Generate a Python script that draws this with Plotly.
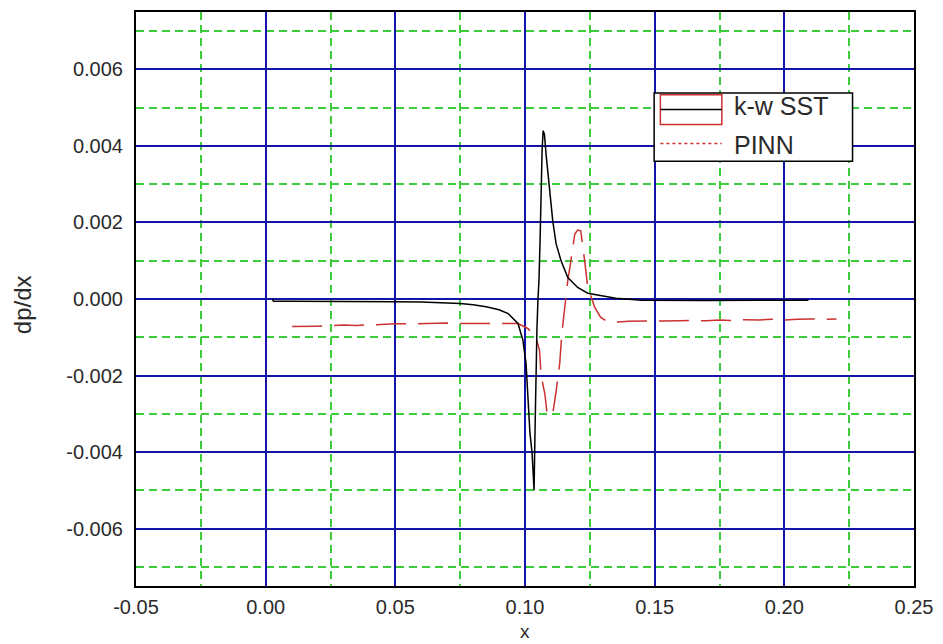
import plotly.graph_objects as go

# ---- data ----
x_sst = [0.0026, 0.003, 0.01, 0.02, 0.03, 0.04, 0.05, 0.06, 0.07, 0.075, 0.08, 0.085,
         0.09, 0.0935, 0.0973, 0.0992, 0.1004, 0.1011, 0.1019, 0.1027, 0.1035, 0.1038,
         0.1042, 0.1046, 0.1050, 0.1054, 0.1058, 0.1062, 0.1066, 0.1070, 0.1075, 0.1081,
         0.1091, 0.1098, 0.1107, 0.1120, 0.1139, 0.1165, 0.1203, 0.1242, 0.128, 0.135,
         0.145, 0.155, 0.17, 0.19, 0.2093]
y_sst_e3 = [0.0, -0.06, -0.06, -0.06, -0.06, -0.07, -0.07, -0.08, -0.10, -0.12, -0.15, -0.2,
            -0.28, -0.38, -0.64, -1.08, -1.68, -2.4, -3.5, -4.0, -5.0, -3.7,
            -2.0, -0.8, 0.0, 0.5, 1.5, 3.0, 3.9, 4.4, 4.3, 3.8,
            3.1, 2.5, 2.04, 1.44, 1.0, 0.56, 0.3, 0.15, 0.1, 0.02,
            -0.03, -0.04, -0.04, -0.03, -0.03]

x_pinn = [0.0102, 0.015, 0.02, 0.025, 0.03, 0.035, 0.04, 0.045, 0.05, 0.055, 0.06, 0.065,
          0.07, 0.075, 0.08, 0.085, 0.09, 0.0935, 0.0973, 0.1011, 0.1042, 0.1056, 0.1062,
          0.1077, 0.1085, 0.1096, 0.1107, 0.1119, 0.1134, 0.1142, 0.1157, 0.1165, 0.1177,
          0.1192, 0.1203, 0.1215, 0.1230, 0.1242, 0.1269, 0.1292, 0.1319, 0.1357, 0.14,
          0.145, 0.15, 0.155, 0.16, 0.165, 0.17, 0.175, 0.18, 0.185, 0.19, 0.195, 0.2,
          0.205, 0.21, 0.215, 0.2201]
y_pinn_e3 = [-0.72, -0.72, -0.71, -0.70, -0.68, -0.69, -0.67, -0.66, -0.65, -0.65, -0.64, -0.64,
             -0.63, -0.64, -0.64, -0.64, -0.63, -0.64, -0.64, -0.77, -1.0, -1.34, -2.0,
             -2.5, -3.0, -3.05, -3.0, -2.46, -1.68, -0.9, -0.04, 0.48, 1.0,
             1.7, 1.8, 1.78, 1.0, 0.3, -0.22, -0.48, -0.6, -0.6, -0.58,
             -0.58, -0.57, -0.58, -0.57, -0.56, -0.57, -0.55, -0.56, -0.54, -0.55, -0.53, -0.55,
             -0.53, -0.52, -0.53, -0.52]

x_tickvals = [-0.05, 0.0, 0.05, 0.10, 0.15, 0.20, 0.25]
x_ticktext = ["-0.05", "0.00", "0.05", "0.10", "0.15", "0.20", "0.25"]
y_tickvals = [-0.006, -0.004, -0.002, 0.0, 0.002, 0.004, 0.006]
y_ticktext = ["-0.006", "-0.004", "-0.002", "0.000", "0.002", "0.004", "0.006"]

series_names = ["k-w SST", "PINN"]
x_label = "x"
y_label = "dp/dx"

y_sst = [v * 1e-3 for v in y_sst_e3]
y_pinn = [v * 1e-3 for v in y_pinn_e3]

FONT = "Liberation Sans, Arial, sans-serif"
BLUE = "#1414a8"
GREEN = "#3ccc3c"
RED = "#cc3030"
TXT = "#2a2a2a"

fig = go.Figure()
fig.add_trace(go.Scatter(x=x_pinn, y=y_pinn, mode="lines", name=series_names[1],
                         line=dict(color=RED, width=1.5, dash="30px,12px"),
                         showlegend=False))
fig.add_trace(go.Scatter(x=x_sst, y=y_sst, mode="lines", name=series_names[0],
                         line=dict(color="black", width=1.5), showlegend=False))

axis_common = dict(
    showline=True, linecolor="black", linewidth=2, mirror=True,
    showgrid=True, gridcolor=BLUE, gridwidth=1.5,
    zeroline=False, ticks="outside", tickcolor="rgba(0,0,0,0)",
    tickfont=dict(family=FONT, size=20, color=TXT),
)
fig.update_xaxes(range=[-0.05, 0.25], tickvals=x_tickvals, ticktext=x_ticktext, ticklen=2,
                 minor=dict(dtick=0.025, tick0=-0.025, showgrid=True, gridcolor=GREEN,
                            gridwidth=1.5, griddash="8px,5px"),
                 **axis_common)
fig.update_yaxes(range=[-0.0075, 0.0075], tickvals=y_tickvals, ticktext=y_ticktext, ticklen=7,
                 minor=dict(dtick=0.001, tick0=0.001, showgrid=True, gridcolor=GREEN,
                            gridwidth=1.5, griddash="8px,5px"),
                 **axis_common)

# legend drawn manually (paper coordinates)
shapes = [
    dict(type="rect", xref="paper", yref="paper", x0=0.666, x1=0.921, y0=0.740, y1=0.859,
         line=dict(color="black", width=1.5), fillcolor="white", layer="above"),
    dict(type="rect", xref="paper", yref="paper", x0=0.674, x1=0.753, y0=0.804, y1=0.856,
         line=dict(color=RED, width=1.5), fillcolor="rgba(0,0,0,0)", layer="above"),
    dict(type="line", xref="paper", yref="paper", x0=0.674, x1=0.753, y0=0.830, y1=0.830,
         line=dict(color="black", width=1.5), layer="above"),
    dict(type="line", xref="paper", yref="paper", x0=0.674, x1=0.753, y0=0.771, y1=0.771,
         line=dict(color=RED, width=1.5, dash="dot"), layer="above"),
]
annotations = [
    dict(xref="paper", yref="paper", x=0.766, y=0.837, text=series_names[0], showarrow=False,
         xanchor="left", yanchor="middle", font=dict(family=FONT, size=25, color=TXT)),
    dict(xref="paper", yref="paper", x=0.766, y=0.769, text=series_names[1], showarrow=False,
         xanchor="left", yanchor="middle", font=dict(family=FONT, size=25, color=TXT)),
    dict(xref="paper", yref="paper", x=-0.146, y=0.49, text=y_label, showarrow=False,
         textangle=-90, xanchor="center", yanchor="middle",
         font=dict(family=FONT, size=24, color=TXT)),
    dict(xref="paper", yref="paper", x=0.5, y=-0.079, text=x_label, showarrow=False,
         xanchor="center", yanchor="middle", font=dict(family=FONT, size=19, color=TXT)),
]

fig.update_layout(
    width=943, height=644,
    margin=dict(l=136, r=25, t=10, b=58),
    paper_bgcolor="white", plot_bgcolor="white",
    shapes=shapes, annotations=annotations, showlegend=False,
)

fig.write_html("out.html")
